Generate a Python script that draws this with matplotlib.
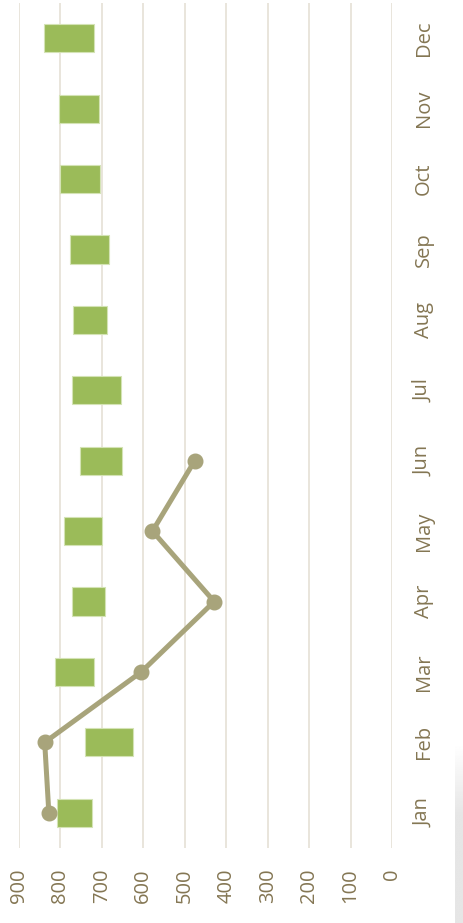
import matplotlib.pyplot as plt
import numpy as np

months = ['Jan', 'Feb', 'Mar', 'Apr', 'May', 'Jun',
          'Jul', 'Aug', 'Sep', 'Oct', 'Nov', 'Dec']
low = [725, 626, 718, 693, 699, 651, 655, 688, 683, 705, 708, 720]
high = [809, 741, 814, 772, 792, 754, 773, 769, 776, 800, 804, 840]
line_vals = [828, 838, 605, 429, 578, 476]
ticks = [0, 100, 200, 300, 400, 500, 600, 700, 800, 900]

text_col = '#847653'
plt.rcParams['font.family'] = ['Open Sans', 'DejaVu Sans']

W, H = 464, 923
fig = plt.figure(figsize=(W / 100, H / 100), dpi=100)
ax = fig.add_axes([19 / W, (H - 848) / H, (392 - 19) / W, (848 - 3) / H])

y = np.arange(len(months))
widths = [h - l for l, h in zip(low, high)]
ax.barh(y, widths, left=low, height=0.4, color='#9BBB59',
        edgecolor='#D4E3B5', linewidth=0.8, zorder=3)

ax.plot(line_vals, y[:len(line_vals)], color='#A8A47B', linewidth=3.6,
        marker='o', markersize=10.5, zorder=4, solid_capstyle='round')

ax.set_xlim(900, 0)
ax.set_ylim(-0.5, 11.5)
ax.set_xticks(ticks)
ax.set_xticklabels([str(t) for t in ticks], rotation=90, color=text_col, fontsize=14.5)
ax.set_yticks(y)
ax.set_yticklabels(months, rotation=90, va='center', color=text_col, fontsize=14.5)
ax.tick_params(axis='y', left=False, labelleft=False, right=False, labelright=True, pad=12)
ax.tick_params(axis='x', length=0, pad=15)
ax.grid(axis='x', color='#E5E0D6', linewidth=1.2, zorder=0)
for s in ax.spines.values():
    s.set_visible(False)

# soft shadow strip on the lower right edge
sh = fig.add_axes([455 / W, 0, 9 / W, (H - 743) / H])
grad = np.linspace(0, 1, 100).reshape(-1, 1)
grad = np.clip(grad * 2.5, 0, 1)
sh.imshow(1 - 0.1 * grad, cmap='gray', vmin=0, vmax=1, aspect='auto',
          extent=[0, 1, 0, 1], origin='upper')
sh.axis('off')

fig.savefig('out.png', dpi=100)
